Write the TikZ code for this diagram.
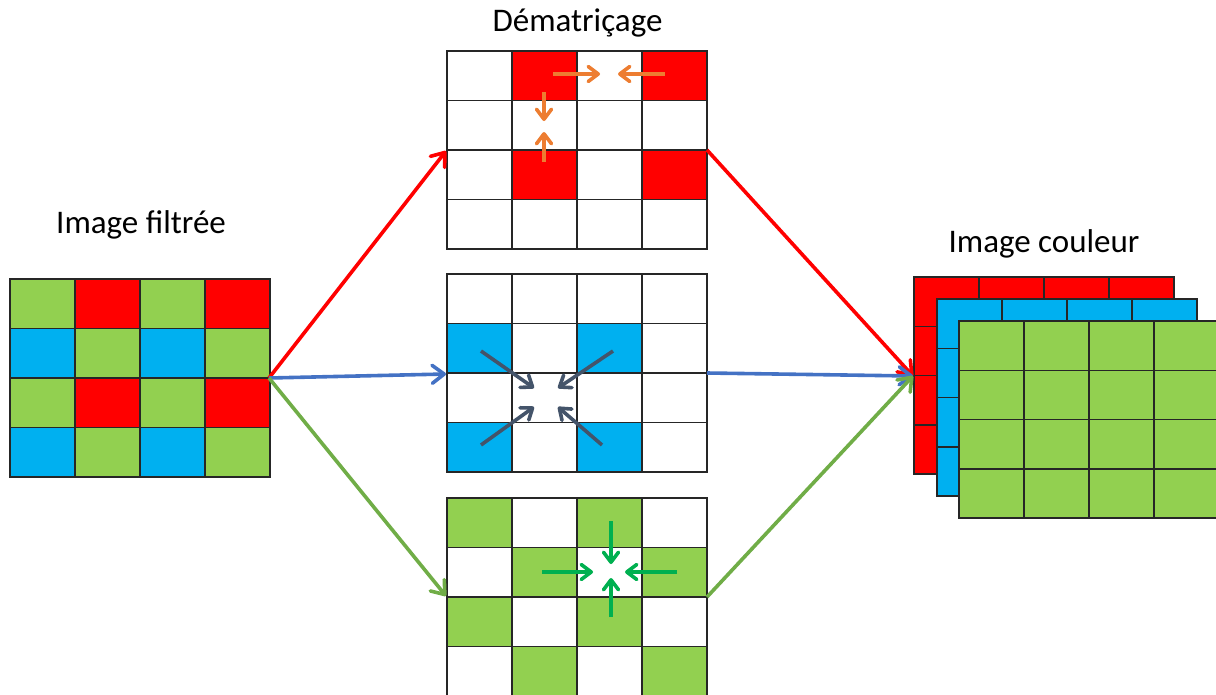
\documentclass[tikz,border=0pt]{standalone}
\usepackage{fontspec}
\setmainfont{Carlito}
\usetikzlibrary{arrows.meta}
\definecolor{cred}{HTML}{FF0000}
\definecolor{cblue}{HTML}{00B0F0}
\definecolor{cgreen}{HTML}{92D050}
\definecolor{ablue}{HTML}{4472C4}
\definecolor{agreen}{HTML}{70AD47}
\definecolor{aorange}{HTML}{ED7D31}
\definecolor{adark}{HTML}{44546A}
\definecolor{agreentwo}{HTML}{00B050}
\newcommand\cellgrid[3]{%
  \fill[white] (#1,#2) rectangle ({#1+260},{#2+198});
  \foreach \c/\r/\col in {#3} {\fill[\col] ({#1+\c*65},{#2+\r*49.5}) rectangle ++(65,49.5);}
  \foreach \i in {0,...,4} {%
    \draw[gridline] ({#1+\i*65},#2) -- ++(0,198);
    \draw[gridline] (#1,{#2+\i*49.5}) -- ++(260,0);}%
}
\newcommand\layergrid[3]{%
  \fill[#3] (#1,#2) rectangle ({#1+260},{#2+197});
  \foreach \i in {0,...,4} {%
    \draw[gridline] ({#1+\i*65},#2) -- ++(0,197);
    \draw[gridline] (#1,{#2+\i*49.25}) -- ++(260,0);}%
}
\tikzset{
  gridline/.style={draw=black!85, line width=1.5pt, line cap=rect},
  bigarrow/.style={line width=3.6pt, -{Straight Barb[length=12pt,width=18pt,round]}},
  smallarrow/.style={line width=3.6pt, -{Straight Barb[length=10pt,width=15pt,round]}},
  label/.style={font=\fontsize{33}{40}\selectfont, anchor=base, inner sep=0pt}
}
\begin{document}
\begin{tikzpicture}[x=1pt,y=-1pt]
\useasboundingbox (0,0) rectangle (1216,694);
\clip (0,0) rectangle (1216,694);
% texts
\node[label] (tdem) at (577.5,31) {Dématriçage};
\node[label] (tfil) at (141,233) {Image filtrée};
\node[label] (tcol) at (1044,252) {Image couleur};
% Bayer grid
\cellgrid{10}{279}{0/0/cgreen,1/0/cred,2/0/cgreen,3/0/cred,
  0/1/cblue,1/1/cgreen,2/1/cblue,3/1/cgreen,
  0/2/cgreen,1/2/cred,2/2/cgreen,3/2/cred,
  0/3/cblue,1/3/cgreen,2/3/cblue,3/3/cgreen}
% red grid
\cellgrid{447}{51}{1/0/cred,3/0/cred,1/2/cred,3/2/cred}
% blue grid
\cellgrid{447}{274}{0/1/cblue,2/1/cblue,0/3/cblue,2/3/cblue}
% green grid
\cellgrid{447}{498}{0/0/cgreen,2/0/cgreen,1/1/cgreen,3/1/cgreen,
  0/2/cgreen,2/2/cgreen,1/3/cgreen,3/3/cgreen}
% colour layers
\layergrid{914}{277}{cred}
\layergrid{937}{299}{cblue}
\layergrid{959}{321}{cgreen}
% connection points
\coordinate (bayerE) at (269,378);
\coordinate (redW) at (446,151);
\coordinate (redE) at (707,150);
\coordinate (blueW) at (446,374);
\coordinate (blueE) at (707,373);
\coordinate (greenW) at (446,596);
\coordinate (greenE) at (707,597);
\coordinate (outW) at (913,376);
% main arrows
\draw[bigarrow, cred] (bayerE) -- (redW);
\draw[bigarrow, ablue] (bayerE) -- (blueW);
\draw[bigarrow, agreen] (bayerE) -- (greenW);
\draw[bigarrow, cred] (redE) -- (outW);
\draw[bigarrow, ablue] (blueE) -- (outW);
\draw[bigarrow, agreen] (greenE) -- (outW);
% orange arrows
\coordinate (o1s) at (553,74); \coordinate (o1e) at (600,74);
\coordinate (o2s) at (665,74); \coordinate (o2e) at (618,74);
\coordinate (o3s) at (544,92); \coordinate (o3e) at (544,121);
\coordinate (o4s) at (544,162); \coordinate (o4e) at (544,132);
\foreach \a in {1,...,4} {\draw[smallarrow, aorange] (o\a s) -- (o\a e);}
% dark arrows
\coordinate (d1s) at (481,351); \coordinate (d1e) at (534,388);
\coordinate (d2s) at (613,351); \coordinate (d2e) at (558,388);
\coordinate (d3s) at (481,445); \coordinate (d3e) at (534,407);
\coordinate (d4s) at (602,445); \coordinate (d4e) at (558,407);
\foreach \a in {1,...,4} {\draw[smallarrow, adark] (d\a s) -- (d\a e);}
% green arrows
\coordinate (g1s) at (611,521); \coordinate (g1e) at (611,564);
\coordinate (g2s) at (611,617); \coordinate (g2e) at (611,578);
\coordinate (g3s) at (542,572); \coordinate (g3e) at (593,572);
\coordinate (g4s) at (677,572); \coordinate (g4e) at (625,572);
\foreach \a in {1,...,4} {\draw[smallarrow, agreentwo] (g\a s) -- (g\a e);}
\end{tikzpicture}
\end{document}
